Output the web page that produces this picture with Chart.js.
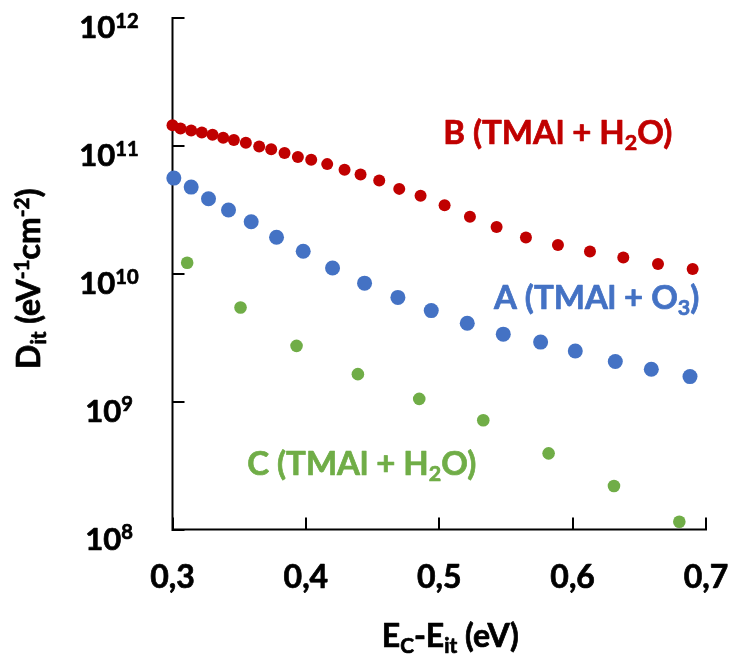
<!DOCTYPE html>
<html>
<head>
<meta charset="utf-8">
<title>Dit vs Ec-Eit</title>
<script src="https://cdn.jsdelivr.net/npm/chart.js@4"></script>
<style>
  html, body { margin: 0; padding: 0; background: #fff; }
  #wrap { width: 732px; height: 663px; }
</style>
</head>
<body>
<div id="wrap"><canvas id="ditChart" width="732" height="663"></canvas></div>
<script type="text/javascript">
// series B (TMAl + H2O), red
var bX = [0.300, 0.306, 0.314, 0.322, 0.330, 0.338, 0.346, 0.355, 0.365, 0.374, 0.384, 0.394, 0.404, 0.416,
          0.429, 0.441, 0.455, 0.470, 0.486, 0.504, 0.523, 0.543, 0.565, 0.589, 0.613, 0.638, 0.664, 0.690];
var bY = [1.45e11, 1.37e11, 1.32e11, 1.27e11, 1.22e11, 1.16e11, 1.11e11, 1.06e11, 9.9e10, 9.4e10, 8.8e10, 8.2e10, 7.8e10, 7.2e10,
          6.5e10, 5.96e10, 5.36e10, 4.61e10, 4.07e10, 3.44e10, 2.79e10, 2.32e10, 1.92e10, 1.68e10, 1.49e10, 1.34e10, 1.19e10, 1.09e10];
// series A (TMAl + O3), blue
var aX = [0.301, 0.314, 0.327, 0.342, 0.359, 0.378, 0.398, 0.420, 0.444, 0.469, 0.494, 0.521, 0.548, 0.576, 0.602, 0.632, 0.659, 0.688];
var aY = [5.60e10, 4.76e10, 3.86e10, 3.15e10, 2.55e10, 1.93e10, 1.50e10, 1.11e10, 8.44e9, 6.53e9, 5.15e9, 4.10e9, 3.37e9, 2.92e9,
          2.49e9, 2.06e9, 1.79e9, 1.57e9];
// series C (TMAl + H2O), green
var cX = [0.311, 0.351, 0.393, 0.439, 0.485, 0.533, 0.582, 0.631, 0.680];
var cY = [1.22e10, 5.45e9, 2.73e9, 1.64e9, 1.05e9, 7.15e8, 3.94e8, 2.19e8, 1.15e8];

// ticks
var xTicks = [0.3, 0.4, 0.5, 0.6, 0.7];
var xTickLabels = ["0,3", "0,4", "0,5", "0,6", "0,7"];
var yTicks = [1e8, 1e9, 1e10, 1e11, 1e12];
var yTickExponents = ["8", "9", "10", "11", "12"];

// in-plot series labels: text parts, anchor x / y in data units
var seriesLabels = [
  { parts: [["B (TMAl + H", 0], ["2", -1], ["O)", 0]], x: 0.503, y: 1.04e11, color: "#C00000" },
  { parts: [["A (TMAl + O", 0], ["3", -1], [")", 0]], x: 0.541, y: 5.28e9, color: "#4472C4" },
  { parts: [["C (TMAl + H", 0], ["2", -1], ["O)", 0]], x: 0.356, y: 2.67e8, color: "#70AD47" }
];

var FONT = "Lato";
function fontOf(size) { return "bold " + size + "px " + FONT; }

function richWidth(ctx, parts, size) {
  var w = 0;
  parts.forEach(function (p) {
    ctx.font = fontOf(p[1] ? size * 0.65 : size);
    w += ctx.measureText(p[0]).width;
  });
  return w;
}

// text with sub (-1) / superscript (1) parts, slightly stroked to look heavier
function drawRich(ctx, parts, x, y, size, color, align) {
  var w = richWidth(ctx, parts, size);
  var cx = align === "center" ? x - w / 2 : (align === "right" ? x - w : x);
  ctx.fillStyle = color;
  ctx.strokeStyle = color;
  ctx.lineWidth = 0.7;
  ctx.lineJoin = "round";
  ctx.textBaseline = "alphabetic";
  ctx.textAlign = "left";
  parts.forEach(function (p) {
    var sz = p[1] ? size * 0.65 : size;
    var dy = p[1] === 1 ? -size * 0.33 : (p[1] === -1 ? size * 0.19 : 0);
    ctx.font = fontOf(sz);
    ctx.fillText(p[0], cx, y + dy);
    ctx.strokeText(p[0], cx, y + dy);
    cx += ctx.measureText(p[0]).width;
  });
}

function zip(xs, ys) {
  return xs.map(function (x, i) { return { x: x, y: ys[i] }; });
}

var axesPlugin = {
  id: "excelAxes",
  beforeDatasetsDraw: function (chart) {
    var ctx = chart.ctx, a = chart.chartArea;
    var xs = chart.scales.x, ys = chart.scales.y;
    ctx.save();
    ctx.strokeStyle = "#000";
    ctx.lineWidth = 2;
    ctx.lineCap = "square";
    ctx.beginPath();
    ctx.moveTo(a.left, a.top);
    ctx.lineTo(a.left, a.bottom);
    ctx.lineTo(a.right, a.bottom);
    yTicks.forEach(function (v) {
      var py = Math.round(ys.getPixelForValue(v));
      ctx.moveTo(a.left, py);
      ctx.lineTo(a.left + 11, py);
    });
    xTicks.forEach(function (v) {
      var px = Math.round(xs.getPixelForValue(v));
      ctx.moveTo(px, a.bottom);
      ctx.lineTo(px, a.bottom - 11);
    });
    ctx.stroke();
    ctx.restore();
  },
  afterDraw: function (chart) {
    var ctx = chart.ctx, a = chart.chartArea;
    var xs = chart.scales.x, ys = chart.scales.y;
    ctx.save();
    yTicks.forEach(function (v, i) {
      var py = ys.getPixelForValue(v);
      drawRich(ctx, [["10", 0], [yTickExponents[i], 1]], 109, py + 20, 31, "#000", "center");
    });
    xTicks.forEach(function (v, i) {
      var px = xs.getPixelForValue(v);
      drawRich(ctx, [[xTickLabels[i], 0]], px, a.bottom + 58, 32, "#000", "center");
    });
    // x axis title
    drawRich(ctx, [["E", 0], ["C", -1], ["-E", 0], ["it", -1], [" (eV)", 0]],
      (a.left + a.right) / 2 + 11, a.bottom + 117, 32, "#000", "center");
    // y axis title
    ctx.save();
    ctx.translate(40, (a.top + a.bottom) / 2 + 5);
    ctx.rotate(-Math.PI / 2);
    drawRich(ctx, [["D", 0], ["it", -1], [" (eV", 0], ["-1", 1], ["cm", 0], ["-2", 1], [")", 0]],
      0, 0, 32, "#000", "center");
    ctx.restore();
    // series labels
    seriesLabels.forEach(function (s) {
      drawRich(ctx, s.parts, xs.getPixelForValue(s.x), ys.getPixelForValue(s.y), 33, s.color, "left");
    });
    ctx.restore();
  }
};

var chart = new Chart("ditChart", {
  type: "scatter",
  data: {
    datasets: [
      {
        label: "B (TMAl + H2O)",
        data: zip(bX, bY),
        backgroundColor: "#C00000",
        borderWidth: 0,
        pointRadius: 6,
        clip: false
      },
      {
        label: "A (TMAl + O3)",
        data: zip(aX, aY),
        backgroundColor: "#4472C4",
        borderWidth: 0,
        pointRadius: 7.5,
        clip: false
      },
      {
        label: "C (TMAl + H2O)",
        data: zip(cX, cY),
        backgroundColor: "#70AD47",
        borderWidth: 0,
        pointRadius: 6.3,
        clip: false
      }
    ]
  },
  options: {
    responsive: false,
    animation: false,
    events: [],
    layout: { padding: { left: 0, top: 18, right: 26, bottom: 0 } },
    plugins: {
      legend: { display: false },
      tooltip: { enabled: false }
    },
    scales: {
      x: {
        type: "linear",
        min: 0.3,
        max: 0.7,
        grid: { display: false },
        border: { display: false },
        ticks: { display: false, stepSize: 0.1 },
        afterFit: function (scale) { scale.height = 133.5; }
      },
      y: {
        type: "logarithmic",
        min: 1e8,
        max: 1e12,
        grid: { display: false },
        border: { display: false },
        ticks: { display: false },
        afterFit: function (scale) { scale.width = 172.5; }
      }
    }
  },
  plugins: [axesPlugin]
});
</script>
</body>
</html>
